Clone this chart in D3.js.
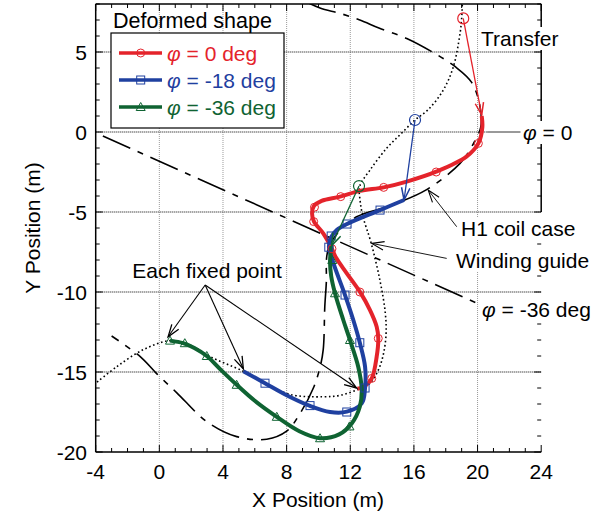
<!DOCTYPE html>
<html>
<head>
<meta charset="utf-8">
<script src="https://cdn.jsdelivr.net/npm/d3@7"></script>
<style>
  body { margin: 0; background: #fff; }
  text { font-family: "Liberation Sans", Arial, Helvetica, sans-serif; }
</style>
</head>
<body>
<div id="chart"></div>
<script>
// axis ticks
var xTicks = [-4, 0, 4, 8, 12, 16, 20, 24];
var yTicks = [-20, -15, -10, -5, 0, 5];

// deformed shapes (x, y in m)
var redCurve = [[20.26,1.0],[20.3,0.3],[20.05,-0.71],[19.3,-1.54],[17.4,-2.48],[15.55,-3.1],[14.1,-3.46],
  [12.6,-3.68],[11.36,-4.04],[10.2,-4.3],[9.72,-4.62],[9.6,-5.1],[9.72,-5.6],[10.3,-6.33],[10.8,-7.2],
  [11.1,-7.85],[11.78,-8.83],[12.6,-9.98],[13.24,-11.13],[13.66,-12.17],[13.76,-12.9],[13.66,-14.04],
  [13.35,-15.4],[12.9,-15.9],[12.45,-16.05]];
var redMarks = [[20.05,-0.71],[17.4,-2.5],[14.1,-3.46],[11.4,-4.04],[9.75,-4.7],[9.7,-5.6],[10.85,-7.3],
  [12.6,-10.0],[13.76,-12.9],[13.35,-15.4]];

var blueCurve = [[15.38,-4.25],[13.87,-4.88],[11.8,-5.75],[11.15,-6.13],[10.78,-6.6],[10.66,-7.2],[10.94,-8.2],
  [11.67,-10.19],[12.19,-11.75],[12.6,-13.17],[12.93,-14.67],[12.93,-16.0],[12.72,-16.96],[11.78,-17.48],
  [10.73,-17.5],[9.47,-17.12],[8.0,-16.45],[6.64,-15.7],[5.28,-14.95]];
var blueMarks = [[13.87,-4.88],[11.8,-5.75],[10.8,-6.5],[10.65,-7.2],[11.67,-10.19],[12.6,-13.17],
  [12.93,-16.0],[11.78,-17.5],[9.47,-17.1],[6.64,-15.7]];

var greenCurve = [[10.83,-7.1],[10.73,-8.0],[10.8,-9.0],[11.04,-10.08],[11.56,-11.75],[11.98,-13.0],
  [12.5,-14.67],[12.72,-16.1],[12.6,-17.17],[12.1,-18.2],[11.3,-18.9],[10.1,-19.14],[8.8,-18.7],
  [7.38,-17.8],[6.0,-16.8],[4.86,-15.8],[3.9,-14.9],[2.98,-14.0],[2.2,-13.5],[1.5,-13.2],[0.67,-13.04]];
var greenMarks = [[10.87,-8.0],[11.04,-10.08],[11.98,-13.0],[11.95,-18.4],[10.1,-19.14],[7.38,-17.8],
  [4.86,-15.8],[2.98,-14.0],[1.6,-13.2],[0.67,-13.04]];

// transfer from winding guide position to deformed shape start
var transferFrom = [[19.1,7.1],[16.07,0.75],[12.55,-3.38]];
var transferTo = [[20.26,1.06],[15.38,-4.25],[10.83,-7.1]];

// H1 coil case (long-short dash)
var coilCase = [[9.3,8.1],[10.1,7.75],[11.4,7.4],[12.6,7.0],[13.8,6.5],[15.55,5.85],[17.3,4.92],[18.6,4.08],
  [19.63,3.1],[20.15,1.6],[20.2,0.3],[19.63,-0.92],[18.9,-1.96],[16.8,-3.6],[14.5,-4.6],[12.4,-5.3],
  [11.36,-6.13],[10.65,-7.2],[10.5,-8.0],[10.5,-9.25],[10.4,-10.9],[10.3,-13.6],[10.1,-14.7],[9.68,-16.0],
  [8.84,-17.6],[8.0,-18.7],[6.75,-19.2],[4.86,-19.04],[2.98,-18.1],[1.1,-16.3],[-0.17,-15.1],
  [-1.2,-14.04],[-3.0,-12.75]];
// winding guide (dotted)
var windingGuide = [[19.05,8.2],[19.0,7.1],[18.9,6.17],[18.48,4.08],[17.85,2.63],[16.9,1.4],[16.07,0.75],
  [15.2,-0.1],[14.3,-1.0],[13.24,-2.38],[12.6,-3.38],[12.62,-4.3],[12.8,-5.3],[13.3,-6.9],[13.87,-9.3],
  [14.2,-11.3],[14.25,-12.6],[14.1,-13.8],[13.8,-14.8],[13.24,-15.7],[12.45,-16.1],[11.4,-16.45],
  [10.3,-16.55],[8.2,-16.4],[6.6,-15.65],[5.28,-14.95],[3.19,-14.04],[1.93,-13.3],[0.67,-13.04],
  [-1.0,-13.6],[-2.68,-14.67],[-4.0,-15.7]];
var phi36Line = [[-3.55,-0.25],[19.95,-10.7]];
var phi0Leader = [[20.6,0],[22.7,0]];

// annotation arrows
var fixedFrom = [2.88,-9.56];
var fixedTo = [[0.55,-12.8],[5.28,-14.8],[12.4,-16.0]];
var coilArrow = [[18.69,-5.92],[16.9,-3.63]];
var guideArrow = [[18.06,-7.9],[13.35,-6.96]];

var legendNames = ["0 deg", "-18 deg", "-36 deg"];
var colors = ["#e4232b", "#1f40a0", "#0f6332"];

var width = 603, height = 513;
var svg = d3.select("#chart").append("svg")
    .attr("width", width)
    .attr("height", height);

var x = d3.scaleLinear().domain([-4, 24]).range([95.7, 541.2]);
var y = d3.scaleLinear().domain([-20, 8]).range([452, 4]);

svg.append("clipPath").attr("id", "clip")
  .append("rect").attr("x", x(-4)).attr("y", y(8))
  .attr("width", x(24) - x(-4)).attr("height", y(-20) - y(8));

// grid
var grid = svg.append("g");
grid.selectAll(".vg").data([0, 4, 8, 12, 16, 20]).enter().append("line")
  .attr("x1", d => x(d)).attr("x2", d => x(d)).attr("y1", y(8)).attr("y2", y(-20))
  .attr("stroke", "#9a9a9a").attr("stroke-width", 1).attr("stroke-dasharray", "1,1");
grid.selectAll(".hg").data([-15, -10, -5, 0, 5]).enter().append("line")
  .attr("x1", x(-4)).attr("x2", d => d === 0 ? x(20.6) : x(24)).attr("y1", d => y(d)).attr("y2", d => y(d))
  .attr("stroke", "#555").attr("stroke-width", 1.6).attr("stroke-dasharray", "1,1");

var line = d3.line().x(d => x(d[0])).y(d => y(d[1])).curve(d3.curveCatmullRom.alpha(0.5));
var plot = svg.append("g").attr("clip-path", "url(#clip)");

plot.append("path").attr("d", line(coilCase)).attr("fill", "none")
  .attr("stroke", "#000").attr("stroke-width", 1.6).attr("stroke-dasharray", "30,8,6,8");
plot.append("path").attr("d", d3.line().x(d => x(d[0])).y(d => y(d[1]))(phi36Line)).attr("fill", "none")
  .attr("stroke", "#000").attr("stroke-width", 1.6).attr("stroke-dasharray", "30,8,6,8");
plot.append("path").attr("d", line(windingGuide)).attr("fill", "none")
  .attr("stroke", "#000").attr("stroke-width", 1.6).attr("stroke-dasharray", "1.6,2.6");
svg.append("line").attr("x1", x(phi0Leader[0][0])).attr("x2", x(phi0Leader[1][0]))
  .attr("y1", y(0)).attr("y2", y(0)).attr("stroke", "#000").attr("stroke-width", 0.8);

function arrow(g, p0, p1, color, w) {
  var x0 = x(p0[0]), y0 = y(p0[1]), x1 = x(p1[0]), y1 = y(p1[1]);
  var a = Math.atan2(y1 - y0, x1 - x0), L = 13, s = 0.33;
  g.append("line").attr("x1", x0).attr("y1", y0).attr("x2", x1).attr("y2", y1)
    .attr("stroke", color).attr("stroke-width", w);
  g.append("path")
    .attr("d", "M" + (x1 - L * Math.cos(a - s)) + "," + (y1 - L * Math.sin(a - s)) +
      "L" + x1 + "," + y1 + "L" + (x1 - L * Math.cos(a + s)) + "," + (y1 - L * Math.sin(a + s)))
    .attr("fill", "none").attr("stroke", color).attr("stroke-width", w + 0.2);
}

var series = [redCurve, blueCurve, greenCurve];
var marks = [redMarks, blueMarks, greenMarks];

series.forEach(function(s, i) {
  plot.append("path").attr("d", line(s)).attr("fill", "none")
    .attr("stroke", colors[i]).attr("stroke-width", 4).attr("stroke-linejoin", "round");
});

function marker(g, i, cx, cy) {
  if (i === 0) {
    g.append("circle").attr("cx", cx).attr("cy", cy).attr("r", 4)
      .attr("fill", "none").attr("stroke", colors[0]).attr("stroke-width", 1);
  } else if (i === 1) {
    g.append("rect").attr("x", cx - 4).attr("y", cy - 4).attr("width", 8).attr("height", 8)
      .attr("fill", "none").attr("stroke", colors[1]).attr("stroke-width", 1);
  } else {
    g.append("path").attr("d", "M" + cx + "," + (cy - 4.5) + "L" + (cx + 4.5) + "," + (cy + 3.5) +
      "L" + (cx - 4.5) + "," + (cy + 3.5) + "Z")
      .attr("fill", "none").attr("stroke", colors[2]).attr("stroke-width", 1);
  }
}
marks.forEach(function(m, i) {
  m.forEach(function(p) { marker(plot, i, x(p[0]), y(p[1])); });
});

// transfer arrows and start circles
transferFrom.forEach(function(p, i) {
  arrow(plot, p, transferTo[i], colors[i], 1.3);
  plot.append("circle").attr("cx", x(p[0])).attr("cy", y(p[1])).attr("r", 5.5)
    .attr("fill", "none").attr("stroke", colors[i]).attr("stroke-width", 1.2);
});

// annotation arrows
var ann = svg.append("g");
fixedTo.forEach(function(p) { arrow(ann, fixedFrom, p, "#000", 1.1); });
arrow(ann, coilArrow[0], coilArrow[1], "#000", 0.9);
arrow(ann, guideArrow[0], guideArrow[1], "#000", 0.9);

// frame and ticks
var frame = svg.append("g").attr("stroke", "#000");
frame.append("line").attr("x1", x(-4)).attr("x2", x(24)).attr("y1", y(8)).attr("y2", y(8)).attr("stroke-width", 1.5);
frame.append("line").attr("x1", x(-4)).attr("x2", x(24)).attr("y1", y(-20)).attr("y2", y(-20)).attr("stroke-width", 1.5);
frame.append("line").attr("x1", x(-4)).attr("x2", x(-4)).attr("y1", y(8)).attr("y2", y(-20)).attr("stroke-width", 1.5);
frame.append("line").attr("x1", x(24)).attr("x2", x(24)).attr("y1", y(8)).attr("y2", y(-5)).attr("stroke-width", 1.5);

d3.range(-4, 25, 1).forEach(function(v) {
  var len = v % 4 === 0 ? 7 : 4;
  frame.append("line").attr("x1", x(v)).attr("x2", x(v)).attr("y1", y(-20)).attr("y2", y(-20) - len).attr("stroke-width", 1);
  frame.append("line").attr("x1", x(v)).attr("x2", x(v)).attr("y1", y(8)).attr("y2", y(8) + len).attr("stroke-width", 1);
});
d3.range(-20, 9, 1).forEach(function(v) {
  var len = v % 5 === 0 ? 7 : 4;
  frame.append("line").attr("x1", x(-4)).attr("x2", x(-4) + len).attr("y1", y(v)).attr("y2", y(v)).attr("stroke-width", 1);
  frame.append("line").attr("x1", x(24)).attr("x2", x(24) - len).attr("y1", y(v)).attr("y2", y(v)).attr("stroke-width", 1);
});

svg.selectAll(".xt").data(xTicks).enter().append("text")
  .attr("x", d => x(d)).attr("y", 479).attr("text-anchor", "middle")
  .attr("font-size", 21).text(d => d);
svg.selectAll(".yt").data(yTicks).enter().append("text")
  .attr("x", 87).attr("y", d => y(d) + 7.5).attr("text-anchor", "end")
  .attr("font-size", 21).text(d => d);
svg.append("text").attr("x", 318).attr("y", 507).attr("text-anchor", "middle")
  .attr("font-size", 21).text("X Position (m)");
svg.append("text").attr("transform", "translate(40,228) rotate(-90)").attr("text-anchor", "middle")
  .attr("font-size", 21).text("Y Position (m)");

// labels with white backing
function label(px, py, parts, anchor) {
  var g = svg.append("g");
  var t = g.append("text").attr("x", px).attr("y", py).attr("font-size", 21).attr("text-anchor", anchor || "start");
  parts.forEach(function(p) {
    t.append("tspan").attr("font-style", p[1] ? "italic" : null).text(p[0]);
  });
  var b = t.node().getBBox();
  g.insert("rect", "text").attr("x", b.x - 2).attr("y", b.y).attr("width", b.width + 4).attr("height", b.height)
    .attr("fill", "#fff");
}
label(481, 46, [["Transfer"]]);
label(523, 140, [["\u03c6", true], [" = 0"]]);
label(461, 236, [["H1 coil case"]]);
label(456, 268, [["Winding guide"]]);
label(482, 317, [["\u03c6", true], [" = -36 deg"]]);
svg.append("text").attr("x", 207).attr("y", 278).attr("text-anchor", "middle")
  .attr("font-size", 21).text("Each fixed point");

// legend
svg.append("text").attr("x", 113).attr("y", 28).attr("font-size", 21.5).text("Deformed shape");
svg.append("rect").attr("x", 111).attr("y", 33).attr("width", 173).attr("height", 95)
  .attr("fill", "#fff").attr("stroke", "#000").attr("stroke-width", 1.2);
var lg = svg.append("g");
legendNames.forEach(function(n, i) {
  var ly = 53 + i * 27;
  lg.append("line").attr("x1", 119).attr("x2", 162).attr("y1", ly).attr("y2", ly)
    .attr("stroke", colors[i]).attr("stroke-width", 3.5);
  marker(lg, i, 140.7, ly);
  var t = lg.append("text").attr("x", 167).attr("y", ly + 7.5).attr("font-size", 21).attr("fill", colors[i]);
  t.append("tspan").attr("font-style", "italic").text("\u03c6");
  t.append("tspan").text(" = " + n);
});
</script>
</body>
</html>
